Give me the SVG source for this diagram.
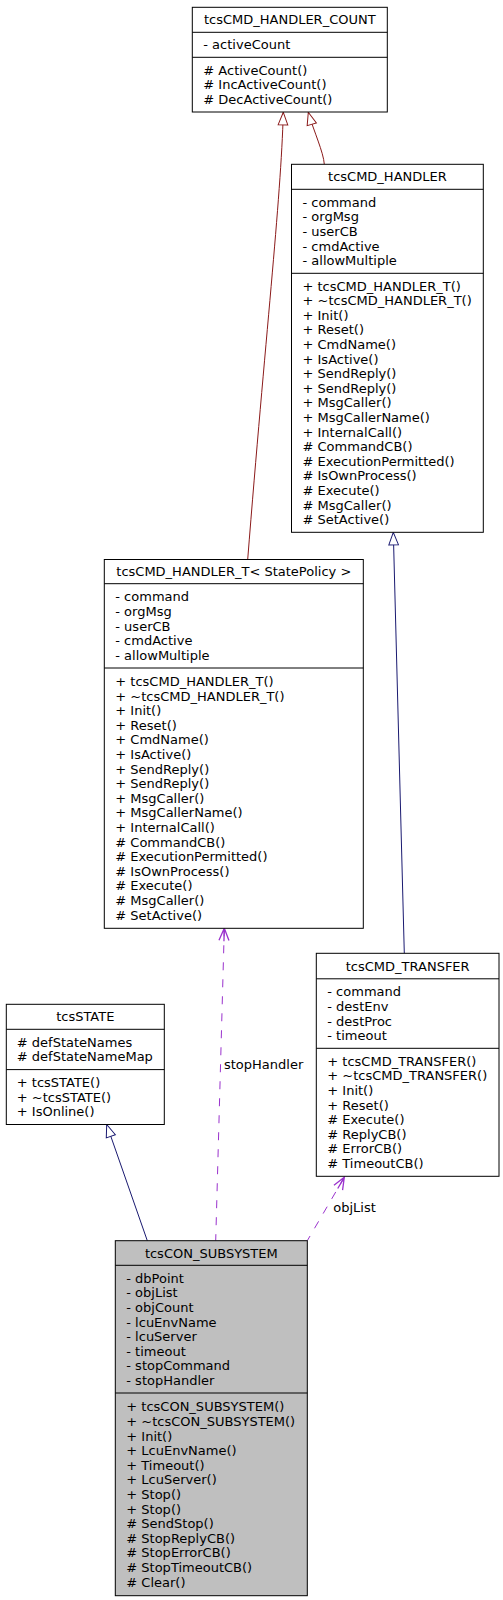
<svg xmlns="http://www.w3.org/2000/svg" width="503" height="1600" viewBox="0 0 503 1600">
<style>
text{font-family:"DejaVu Sans","Liberation Sans",sans-serif;font-size:13px;fill:#000}
.t{text-anchor:middle}
.box{fill:#fff;stroke:#000;stroke-width:1}
.grey{fill:#bfbfbf}
.div{stroke:#000;stroke-width:1}
.red{fill:none;stroke:#8b1a1a;stroke-width:1}
.blue{fill:none;stroke:#191970;stroke-width:1}
.use{fill:none;stroke:#9a32cd;stroke-width:1;stroke-dasharray:8,9}
</style>
<defs>
<marker id="inhRed" markerUnits="userSpaceOnUse" orient="auto" refX="0" refY="0" viewBox="-15 -8 17 16" markerWidth="17" markerHeight="16">
<path d="M0,0 L-12.5,-4.8 L-12.5,4.8 Z" fill="#fff" stroke="#8b1a1a" stroke-width="1"/>
</marker>
<marker id="inhBlue" markerUnits="userSpaceOnUse" orient="auto" refX="0" refY="0" viewBox="-15 -8 17 16" markerWidth="17" markerHeight="16">
<path d="M0,0 L-12.5,-4.8 L-12.5,4.8 Z" fill="#fff" stroke="#191970" stroke-width="1"/>
</marker>
<marker id="usePurple" markerUnits="userSpaceOnUse" orient="auto-start-reverse" refX="0" refY="0" viewBox="-15 -8 17 16" markerWidth="17" markerHeight="16">
<path d="M-12,-5 L0,0 L-12,5 M-13,0 L0,0" fill="none" stroke="#9a32cd" stroke-width="1.3"/>
</marker>
</defs>

<g id="connectors">
<path class="red" d="M247.7,559.5 C265,340 281,200 283.3,112.3" marker-end="url(#inhRed)"/>
<path class="red" d="M324.3,164.3 C323.5,152 314,132 308.3,112.3" marker-end="url(#inhRed)"/>
<path class="blue" d="M404.3,953.3 L393.3,532.3" marker-end="url(#inhBlue)"/>
<path class="blue" d="M147.3,1240.7 L106.7,1124.5" marker-end="url(#inhBlue)"/>
<path class="use" d="M224.3,928.3 L215.7,1240.7" marker-start="url(#usePurple)"/>
<text x="224" y="1068.5">stopHandler</text>
<path class="use" d="M344.3,1177.3 L307.3,1240.7" marker-start="url(#usePurple)"/>
<text x="333.3" y="1212">objList</text>
</g>

<g id="tcsCMD_HANDLER_COUNT">
<rect class="box" x="192.3" y="7.3" width="195" height="104.7"/>
<line class="div" x1="192.3" y1="32.3" x2="387.3" y2="32.3"/>
<line class="div" x1="192.3" y1="57.3" x2="387.3" y2="57.3"/>
<text class="t" x="289.8" y="24.4">tcsCMD_HANDLER_COUNT</text>
<text x="203.3" y="49.4">- activeCount</text>
<text x="203.3" y="74.7"># ActiveCount()</text>
<text x="203.3" y="89.3"># IncActiveCount()</text>
<text x="203.3" y="103.9"># DecActiveCount()</text>
</g>

<g id="tcsCMD_HANDLER">
<rect class="box" x="291.5" y="164.3" width="191.8" height="368"/>
<line class="div" x1="291.5" y1="189.3" x2="483.3" y2="189.3"/>
<line class="div" x1="291.5" y1="273.3" x2="483.3" y2="273.3"/>
<text class="t" x="387.4" y="181.4">tcsCMD_HANDLER</text>
<text x="302.5" y="206.7">- command</text>
<text x="302.5" y="221.3">- orgMsg</text>
<text x="302.5" y="235.9">- userCB</text>
<text x="302.5" y="250.5">- cmdActive</text>
<text x="302.5" y="265.1">- allowMultiple</text>
<text x="302.5" y="290.6">+ tcsCMD_HANDLER_T()</text>
<text x="302.5" y="305.2">+ ~tcsCMD_HANDLER_T()</text>
<text x="302.5" y="319.8">+ Init()</text>
<text x="302.5" y="334.4">+ Reset()</text>
<text x="302.5" y="349.0">+ CmdName()</text>
<text x="302.5" y="363.6">+ IsActive()</text>
<text x="302.5" y="378.2">+ SendReply()</text>
<text x="302.5" y="392.8">+ SendReply()</text>
<text x="302.5" y="407.4">+ MsgCaller()</text>
<text x="302.5" y="422.0">+ MsgCallerName()</text>
<text x="302.5" y="436.6">+ InternalCall()</text>
<text x="302.5" y="451.2"># CommandCB()</text>
<text x="302.5" y="465.8"># ExecutionPermitted()</text>
<text x="302.5" y="480.4"># IsOwnProcess()</text>
<text x="302.5" y="495.0"># Execute()</text>
<text x="302.5" y="509.6"># MsgCaller()</text>
<text x="302.5" y="524.2"># SetActive()</text>
</g>

<g id="tcsCMD_HANDLER_T">
<rect class="box" x="104.3" y="559.5" width="259" height="368.8"/>
<line class="div" x1="104.3" y1="583.7" x2="363.3" y2="583.7"/>
<line class="div" x1="104.3" y1="668" x2="363.3" y2="668"/>
<text class="t" x="233.8" y="576.2">tcsCMD_HANDLER_T&lt; StatePolicy &gt;</text>
<text x="115.3" y="601.3">- command</text>
<text x="115.3" y="615.9">- orgMsg</text>
<text x="115.3" y="630.5">- userCB</text>
<text x="115.3" y="645.1">- cmdActive</text>
<text x="115.3" y="659.7">- allowMultiple</text>
<text x="115.3" y="686.0">+ tcsCMD_HANDLER_T()</text>
<text x="115.3" y="700.6">+ ~tcsCMD_HANDLER_T()</text>
<text x="115.3" y="715.2">+ Init()</text>
<text x="115.3" y="729.8">+ Reset()</text>
<text x="115.3" y="744.4">+ CmdName()</text>
<text x="115.3" y="759.0">+ IsActive()</text>
<text x="115.3" y="773.6">+ SendReply()</text>
<text x="115.3" y="788.2">+ SendReply()</text>
<text x="115.3" y="802.8">+ MsgCaller()</text>
<text x="115.3" y="817.4">+ MsgCallerName()</text>
<text x="115.3" y="832.0">+ InternalCall()</text>
<text x="115.3" y="846.6"># CommandCB()</text>
<text x="115.3" y="861.2"># ExecutionPermitted()</text>
<text x="115.3" y="875.8"># IsOwnProcess()</text>
<text x="115.3" y="890.4"># Execute()</text>
<text x="115.3" y="905.0"># MsgCaller()</text>
<text x="115.3" y="919.6"># SetActive()</text>
</g>

<g id="tcsCMD_TRANSFER">
<rect class="box" x="316.3" y="953.3" width="182.7" height="223"/>
<line class="div" x1="316.3" y1="978.8" x2="499" y2="978.8"/>
<line class="div" x1="316.3" y1="1048.3" x2="499" y2="1048.3"/>
<text class="t" x="407.7" y="970.6">tcsCMD_TRANSFER</text>
<text x="327.3" y="996.3">- command</text>
<text x="327.3" y="1010.9">- destEnv</text>
<text x="327.3" y="1025.5">- destProc</text>
<text x="327.3" y="1040.1">- timeout</text>
<text x="327.3" y="1065.8">+ tcsCMD_TRANSFER()</text>
<text x="327.3" y="1080.4">+ ~tcsCMD_TRANSFER()</text>
<text x="327.3" y="1095.0">+ Init()</text>
<text x="327.3" y="1109.6">+ Reset()</text>
<text x="327.3" y="1124.2"># Execute()</text>
<text x="327.3" y="1138.8"># ReplyCB()</text>
<text x="327.3" y="1153.4"># ErrorCB()</text>
<text x="327.3" y="1168.0"># TimeoutCB()</text>
</g>

<g id="tcsSTATE">
<rect class="box" x="6.3" y="1004.3" width="158" height="120.2"/>
<line class="div" x1="6.3" y1="1029.3" x2="164.3" y2="1029.3"/>
<line class="div" x1="6.3" y1="1069.6" x2="164.3" y2="1069.6"/>
<text class="t" x="85.3" y="1021.4">tcsSTATE</text>
<text x="16.8" y="1046.8"># defStateNames</text>
<text x="16.8" y="1061.4"># defStateNameMap</text>
<text x="16.8" y="1087.1">+ tcsSTATE()</text>
<text x="16.8" y="1101.7">+ ~tcsSTATE()</text>
<text x="16.8" y="1116.3">+ IsOnline()</text>
</g>

<g id="tcsCON_SUBSYSTEM">
<rect class="box grey" x="115.3" y="1240.7" width="192" height="355"/>
<line class="div" x1="115.3" y1="1265.3" x2="307.3" y2="1265.3"/>
<line class="div" x1="115.3" y1="1393" x2="307.3" y2="1393"/>
<text class="t" x="211.3" y="1257.6">tcsCON_SUBSYSTEM</text>
<text x="126.3" y="1282.7">- dbPoint</text>
<text x="126.3" y="1297.3">- objList</text>
<text x="126.3" y="1311.9">- objCount</text>
<text x="126.3" y="1326.5">- lcuEnvName</text>
<text x="126.3" y="1341.1">- lcuServer</text>
<text x="126.3" y="1355.7">- timeout</text>
<text x="126.3" y="1370.3">- stopCommand</text>
<text x="126.3" y="1384.9">- stopHandler</text>
<text x="126.3" y="1411.4">+ tcsCON_SUBSYSTEM()</text>
<text x="126.3" y="1426.0">+ ~tcsCON_SUBSYSTEM()</text>
<text x="126.3" y="1440.6">+ Init()</text>
<text x="126.3" y="1455.2">+ LcuEnvName()</text>
<text x="126.3" y="1469.8">+ Timeout()</text>
<text x="126.3" y="1484.4">+ LcuServer()</text>
<text x="126.3" y="1499.0">+ Stop()</text>
<text x="126.3" y="1513.6">+ Stop()</text>
<text x="126.3" y="1528.2"># SendStop()</text>
<text x="126.3" y="1542.8"># StopReplyCB()</text>
<text x="126.3" y="1557.4"># StopErrorCB()</text>
<text x="126.3" y="1572.0"># StopTimeoutCB()</text>
<text x="126.3" y="1586.6"># Clear()</text>
</g>
</svg>
